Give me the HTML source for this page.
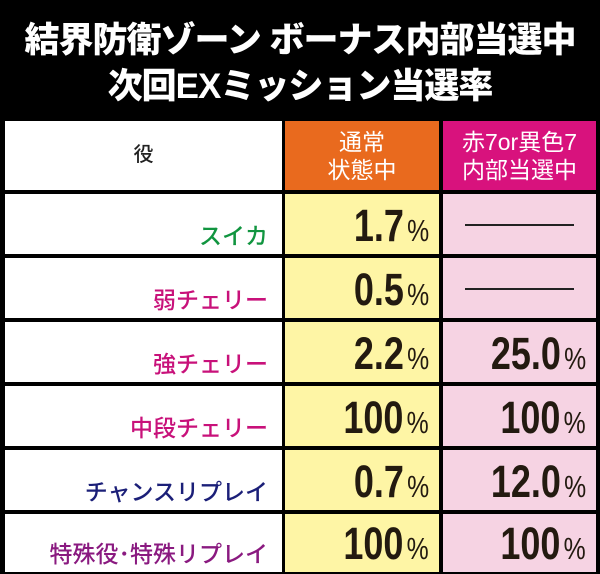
<!DOCTYPE html>
<html style="width:600px;height:574px;overflow:hidden"><head><meta charset="utf-8"><style>
body{margin:0;width:600px;height:574px;background:#000;overflow:hidden;font-family:"Liberation Sans","Noto Sans CJK JP",sans-serif;position:relative}
.t{position:absolute;left:0;width:600px;text-align:center;color:#fff;font-weight:900;font-size:35px;letter-spacing:-1px;white-space:nowrap}
.c{position:absolute;box-sizing:border-box}
.l{background:#fff;left:5px;width:277px;text-align:right;padding-right:14px;font-size:23px;font-weight:500}
.y{background:#fef5a5;left:285px;width:154px}
.p{background:#f6d3e3;left:443px;width:153px}
.n{position:absolute;right:10px;bottom:2px;font-weight:bold;font-size:45px;color:#231a10;transform:scaleX(0.8);transform-origin:right bottom;white-space:nowrap}
.n small{font-size:31px;font-weight:normal;margin-left:4px}
.dash{position:absolute;left:22px;right:22px;top:30px;height:2px;background:#222}
.h{color:#fff;text-align:center;font-size:23px;line-height:28px;padding-top:7px}
</style></head><body>
<div class="t" style="top:12px">結界防衛ゾーン ボーナス内部当選中</div>
<div class="t" style="top:58px">次回EXミッション当選率</div>

<div class="c l" style="top:121px;height:69px;text-align:center;padding:0;line-height:69px;font-size:20px;color:#222">役</div>
<div class="c y h" style="top:121px;height:69px;background:#e96a1e">通常<br>状態中</div>
<div class="c p h" style="top:121px;height:69px;background:#d8127d">赤7or異色7<br>内部当選中</div>

<div class="c l" style="top:194px;height:60px;line-height:84px;color:#119540">スイカ</div>
<div class="c y" style="top:194px;height:60px"><div class="n">1.7<small>%</small></div></div>
<div class="c p" style="top:194px;height:60px"><div class="dash"></div></div>

<div class="c l" style="top:258px;height:60px;line-height:84px;color:#c8117a">弱チェリー</div>
<div class="c y" style="top:258px;height:60px"><div class="n">0.5<small>%</small></div></div>
<div class="c p" style="top:258px;height:60px"><div class="dash"></div></div>

<div class="c l" style="top:322px;height:60px;line-height:84px;color:#c8117a">強チェリー</div>
<div class="c y" style="top:322px;height:60px"><div class="n">2.2<small>%</small></div></div>
<div class="c p" style="top:322px;height:60px"><div class="n">25.0<small>%</small></div></div>

<div class="c l" style="top:386px;height:60px;line-height:84px;color:#c8117a">中段チェリー</div>
<div class="c y" style="top:386px;height:60px"><div class="n">100<small>%</small></div></div>
<div class="c p" style="top:386px;height:60px"><div class="n">100<small>%</small></div></div>

<div class="c l" style="top:450px;height:60px;line-height:84px;color:#1b1f78">チャンスリプレイ</div>
<div class="c y" style="top:450px;height:60px"><div class="n">0.7<small>%</small></div></div>
<div class="c p" style="top:450px;height:60px"><div class="n">12.0<small>%</small></div></div>

<div class="c l" style="top:514px;height:58px;line-height:80px;color:#8a1a80">特殊役･特殊リプレイ</div>
<div class="c y" style="top:514px;height:58px"><div class="n">100<small>%</small></div></div>
<div class="c p" style="top:514px;height:58px"><div class="n">100<small>%</small></div></div>
</body></html>
